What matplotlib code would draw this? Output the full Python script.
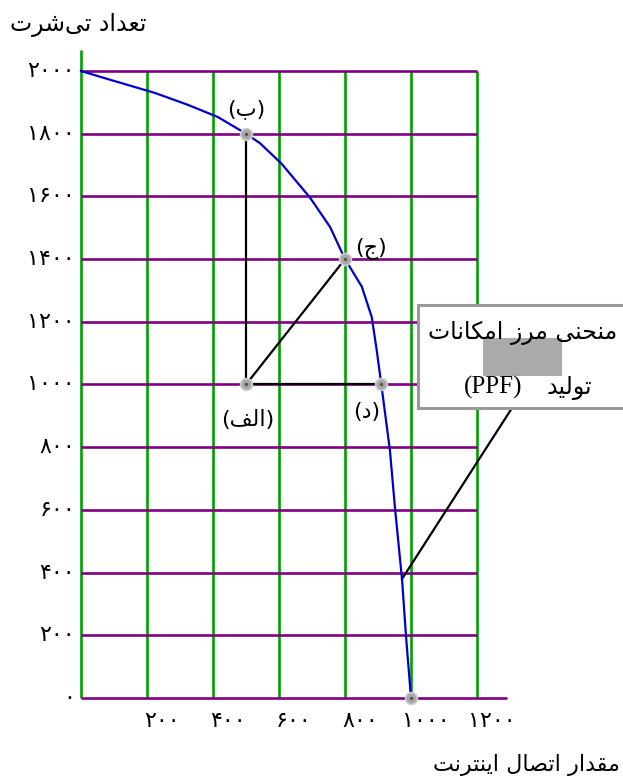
import matplotlib
matplotlib.use('Agg')
import matplotlib.pyplot as plt
from matplotlib.patches import Rectangle

# ---- data ----
x_ticks = [0, 200, 400, 600, 800, 1000, 1200]
y_ticks = [0, 200, 400, 600, 800, 1000, 1200, 1400, 1600, 1800, 2000]

# PPF curve
ppf_x = [0, 82, 224, 324, 415, 500, 542, 608, 694, 755, 800, 851, 881, 896, 910, 936, 952, 973, 985, 1000]
ppf_y = [2000, 1974, 1930, 1892, 1853, 1800, 1770, 1704, 1596, 1502, 1400, 1312, 1215, 1110, 1000, 791, 600, 376, 195, 0]

pt_names = ['الف', 'ب', 'ج', 'د']
pt_x = [500, 500, 800, 910]
pt_y = [1000, 1800, 1400, 1000]
end_x, end_y = 1000, 0

y_title = 'تعداد تی\u200cشرت'
x_title = 'مقدار اتصال اینترنت'
box_line1 = 'منحنی مرز امکانات'
box_line2 = 'تولید'
box_abbr = '(PPF)'

# ---- tiny arabic shaper (matplotlib has no shaping / bidi) ----
FORMS = {
    'ا': (0xFE8D, 0xFE8E), 'ب': (0xFE8F, 0xFE90, 0xFE91, 0xFE92),
    'ت': (0xFE95, 0xFE96, 0xFE97, 0xFE98), 'ج': (0xFE9D, 0xFE9E, 0xFE9F, 0xFEA0),
    'ح': (0xFEA1, 0xFEA2, 0xFEA3, 0xFEA4), 'د': (0xFEA9, 0xFEAA),
    'ر': (0xFEAD, 0xFEAE), 'ز': (0xFEAF, 0xFEB0),
    'ش': (0xFEB5, 0xFEB6, 0xFEB7, 0xFEB8), 'ص': (0xFEB9, 0xFEBA, 0xFEBB, 0xFEBC),
    'ع': (0xFEC9, 0xFECA, 0xFECB, 0xFECC), 'ف': (0xFED1, 0xFED2, 0xFED3, 0xFED4),
    'ق': (0xFED5, 0xFED6, 0xFED7, 0xFED8), 'ل': (0xFEDD, 0xFEDE, 0xFEDF, 0xFEE0),
    'م': (0xFEE1, 0xFEE2, 0xFEE3, 0xFEE4), 'ن': (0xFEE5, 0xFEE6, 0xFEE7, 0xFEE8),
    'و': (0xFEED, 0xFEEE), 'ی': (0xFBFC, 0xFBFD, 0xFBFE, 0xFBFF),
    'ک': (0xFB8E, 0xFB8F, 0xFB90, 0xFB91),
}

def shape(s):
    out = []
    for i, c in enumerate(s):
        if c not in FORMS:
            if c != '\u200c':
                out.append(c)
            continue
        prev = s[i-1] if i > 0 else ''
        nxt = s[i+1] if i < len(s)-1 else ''
        pj = prev in FORMS and len(FORMS[prev]) == 4
        nj = len(FORMS[c]) == 4 and nxt in FORMS
        f = FORMS[c]
        if pj and nj:
            out.append(chr(f[3]))
        elif nj:
            out.append(chr(f[2]))
        elif pj:
            out.append(chr(f[1]))
        else:
            out.append(chr(f[0]))
    return ''.join(out[::-1])

def fa_digits(n):
    return ''.join(chr(0x06F0 + int(d)) for d in str(n))

plt.rcParams['font.family'] = ['DejaVu Sans']

fig = plt.figure(figsize=(6.23, 7.82), dpi=100)
ax = fig.add_axes([0, 0, 1, 1])
ax.set_xlim(-245.5, 1642.4)
ax.set_ylim(-268, 2226.5)
ax.axis('off')

green = '#00a000'
purple = '#800080'

# grid
for v in x_ticks:
    top = 2067 if v == 0 else 2000
    ax.vlines(v, 0, top, color=green, lw=1.9, zorder=1)
for h in y_ticks:
    right = 1290 if h == 0 else 1200
    ax.hlines(h, 0, right, color=purple, lw=1.9, zorder=2)

# tick labels
for v in x_ticks[1:]:
    ax.text(v + 45, -72, fa_digits(v), ha='center', va='center', fontsize=16)
for h in y_ticks:
    ax.text(-18, h, fa_digits(h), ha='right', va='center', fontsize=16)

# axis titles
ax.text(-215, 2147, shape(y_title), ha='left', va='center', fontsize=17)
ax.text(1633, -214, shape(x_title), ha='right', va='center', fontsize=16)

# curve
ax.plot(ppf_x, ppf_y, color='#0000cc', lw=1.6, zorder=4)

# triangle lines from point الف
ax.plot([pt_x[0], pt_x[1]], [pt_y[0], pt_y[1]], color='black', lw=1.6, zorder=3)
ax.plot([pt_x[0], pt_x[2]], [pt_y[0], pt_y[2]], color='black', lw=1.6, zorder=3)
ax.plot([pt_x[0], pt_x[3]], [pt_y[0], pt_y[3]], color='black', lw=1.6, zorder=3)

# points
px = pt_x + [end_x]
py = pt_y + [end_y]
ax.plot(px, py, 'o', ms=8.5, mfc='#a8a8a8', mec='#cfcfcf', mew=1.2, zorder=5)
ax.plot(px, py, 'o', ms=2.5, mfc='#555555', mec='none', zorder=6)

# point labels
lbl_pos = [(506, 887), (500, 1878), (879, 1435), (867, 912)]
for name, (lx, ly) in zip(pt_names, lbl_pos):
    ax.text(lx, ly, '(' + shape(name) + ')', ha='center', va='center', fontsize=16, zorder=7)

# annotation box
ax.plot([973, 1306], [380, 925], color='black', lw=1.6, zorder=3)
ax.add_patch(Rectangle((1021, 925), 700, 329, facecolor='white', edgecolor='#999999',
                       lw=2.2, zorder=8))
ax.add_patch(Rectangle((1218, 1027), 240, 121, facecolor='#aaaaaa', edgecolor='none', zorder=9))
ax.text(1624, 1164, shape(box_line1), ha='right', va='center', fontsize=17, zorder=10)
ax.text(1548, 989, shape(box_line2), ha='right', va='center', fontsize=17, zorder=10)
ax.text(1336, 989, box_abbr, ha='right', va='center', fontsize=18,
        family=['Liberation Serif', 'DejaVu Serif'], zorder=10)

fig.savefig('out.png', dpi=100)
